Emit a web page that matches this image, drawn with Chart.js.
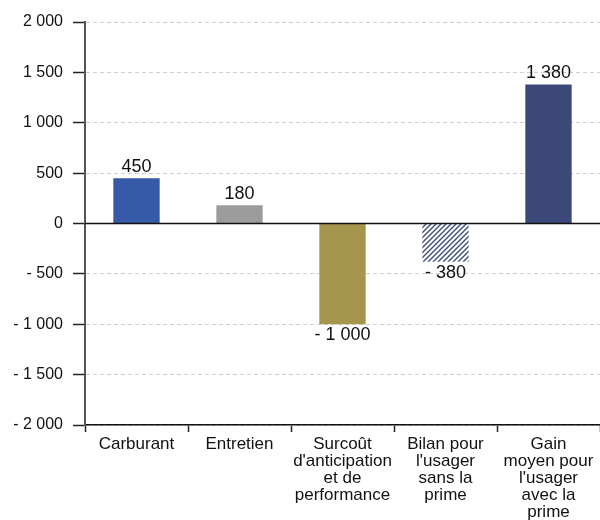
<!DOCTYPE html>
<html>
<head>
<meta charset="utf-8">
<script src="https://cdn.jsdelivr.net/npm/chart.js@4/dist/chart.umd.min.js"></script>
<style>
  html, body { margin: 0; padding: 0; background: #fff; }
  #wrap { width: 600px; height: 520px; }
</style>
</head>
<body>
<div id="wrap"><canvas id="chart"></canvas></div>
<script>
// categories (already split on several lines) and values in euros
const categories = [
  ["Carburant"],
  ["Entretien"],
  ["Surcoût", "d'anticipation", "et de", "performance"],
  ["Bilan pour", "l'usager", "sans la", "prime"],
  ["Gain", "moyen pour", "l'usager", "avec la", "prime"]
];
const values = [450, 180, -1000, -380, 1380];
const yTicks = [-2000, -1500, -1000, -500, 0, 500, 1000, 1500, 2000];

const FONT = "'Liberation Sans', Arial, Helvetica, sans-serif";

// "1 380", "- 1 000"
function fmt(v) {
  const s = Math.abs(v).toString().replace(/\B(?=(\d{3})+(?!\d))/g, " ");
  return (v < 0 ? "- " : "") + s;
}

// diagonal hatching for the "sans la prime" bar
function hatch(color) {
  const c = document.createElement("canvas");
  c.width = 5; c.height = 5;
  const g = c.getContext("2d");
  g.strokeStyle = color;
  g.lineWidth = 1.4;
  g.beginPath();
  g.moveTo(-1, 6); g.lineTo(6, -1);
  g.moveTo(-1, 1); g.lineTo(1, -1);
  g.moveTo(4, 6); g.lineTo(6, 4);
  g.stroke();
  return g.createPattern(c, "repeat");
}

const barColors = ["#3659a8", "#9c9c9c", "#a6954c", hatch("#3f4d7d"), "#3b4878"];

// zero line + value labels
const extras = {
  id: "extras",
  afterDatasetsDraw(chart) {
    const { ctx, chartArea, scales } = chart;
    const y0 = scales.y.getPixelForValue(0);
    ctx.save();
    ctx.strokeStyle = "#111";
    ctx.lineWidth = 1.5;
    ctx.beginPath();
    ctx.moveTo(chartArea.left, y0);
    ctx.lineTo(chartArea.right, y0);
    ctx.stroke();

    ctx.fillStyle = "#111";
    ctx.font = "18px " + FONT;
    ctx.textAlign = "center";
    chart.getDatasetMeta(0).data.forEach((bar, i) => {
      const v = values[i];
      if (v >= 0) {
        ctx.textBaseline = "bottom";
        ctx.fillText(fmt(v), bar.x, bar.y - 2);
      } else {
        ctx.textBaseline = "top";
        ctx.fillText(fmt(v), bar.x, bar.y + 2);
      }
    });
    ctx.restore();
  }
};

new Chart(document.getElementById("chart"), {
  type: "bar",
  data: {
    labels: categories,
    datasets: [{
      data: values,
      backgroundColor: barColors,
      borderWidth: 0,
      barPercentage: 0.45,
      categoryPercentage: 1
    }]
  },
  options: {
    responsive: true,
    maintainAspectRatio: false,
    animation: false,
    layout: { padding: { top: 22, right: 0, left: 0, bottom: 0 } },
    plugins: {
      legend: { display: false },
      tooltip: { enabled: false }
    },
    scales: {
      x: {
        afterFit(s) { s.height = 95; },
        grid: {
          offset: true,
          drawOnChartArea: false,
          tickLength: 7,
          tickColor: "#222",
          tickWidth: 1.5
        },
        border: { color: "#111", width: 1.5 },
        ticks: {
          color: "#111",
          padding: 4,
          maxRotation: 0,
          autoSkip: false,
          font: { family: FONT, size: 17, lineHeight: 1 }
        }
      },
      y: {
        min: -2000,
        max: 2000,
        afterFit(s) { s.width = 85; },
        afterBuildTicks(s) { s.ticks = yTicks.map(v => ({ value: v })); },
        grid: {
          color: "#cfcfcf",
          tickLength: 12,
          tickColor: "#222",
          tickWidth: 1.5,
          tickBorderDash: []
        },
        border: { color: "#555", width: 2, dash: [4, 3] },
        ticks: {
          color: "#111",
          padding: 10,
          font: { family: FONT, size: 16 },
          callback: v => fmt(v)
        }
      }
    }
  },
  plugins: [extras]
});
</script>
</body>
</html>
